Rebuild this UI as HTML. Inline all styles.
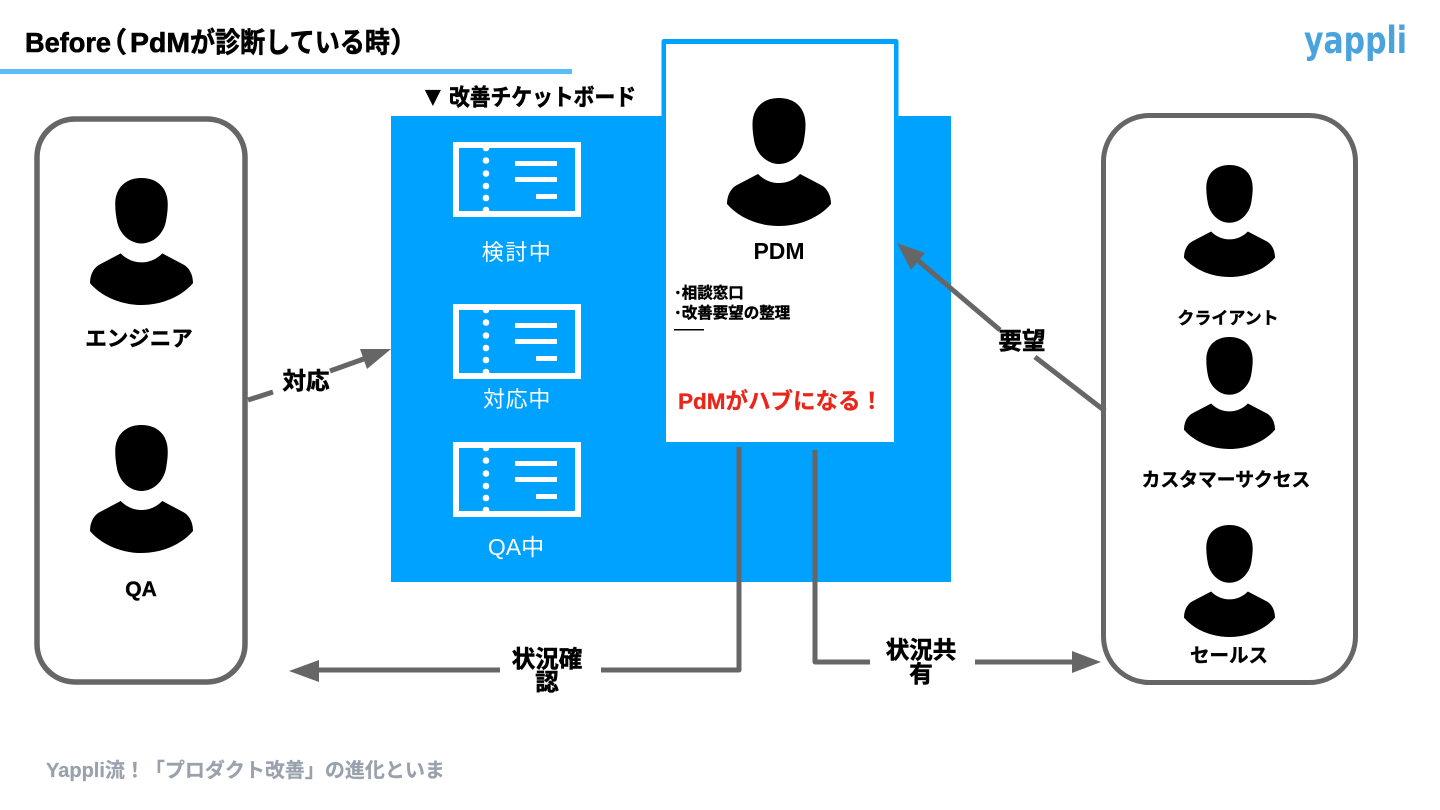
<!DOCTYPE html>
<html lang="ja">
<head>
<meta charset="utf-8">
<title>Before</title>
<style>
html,body{margin:0;padding:0;background:#fff}
svg{display:block}
text{font-family:"Liberation Sans","Noto Sans CJK JP",sans-serif;font-weight:700}
.b{stroke:#000;stroke-width:.6}
</style>
</head>
<body>
<svg width="1440" height="810" viewBox="0 0 1440 810" xmlns="http://www.w3.org/2000/svg">
<defs>
<symbol id="p" viewBox="0 0 104 128" preserveAspectRatio="none">
<path d="M52 0C68 0 78.500 10 78.500 26C78.500 32 78 36 77 42C75 56 64 66 52 66C40 66 29 56 27 42C26 36 25.500 32 25.500 26C25.500 10 36 0 52 0Z"/>
<path d="M31 76C37 82 44 85 52 85C60 85 67 82 73 76L94 87C100 90 104 97 104 106C92 120 72 128 52 128C32 128 12 120 0 106C0 97 4 90 10 87Z"/>
</symbol>
<g id="t">
<rect x="456" y="145" width="122" height="69" fill="none" stroke="#fff" stroke-width="6"/>
<g fill="#fff">
<circle cx="486" cy="148" r="3.300"/><circle cx="486" cy="160.500" r="3.300"/><circle cx="486" cy="173.500" r="3.300"/><circle cx="486" cy="186" r="3.300"/><circle cx="486" cy="198" r="3.300"/><circle cx="486" cy="210" r="3.300"/>
<rect x="515" y="161" width="42" height="5"/><rect x="515" y="177" width="42" height="5"/><rect x="536" y="194" width="21" height="5"/>
</g>
</g>
</defs>

<!-- header -->
<text y="52" font-size="28" class="b" fill="#000"><tspan x="25" textLength="86" lengthAdjust="spacingAndGlyphs">Before</tspan><tspan x="99">（</tspan><tspan x="130" textLength="60" lengthAdjust="spacingAndGlyphs">PdM</tspan><tspan x="190" textLength="200" lengthAdjust="spacingAndGlyphs">が診断している時</tspan><tspan x="390">）</tspan></text>
<rect x="0" y="69" width="572" height="5" fill="#5bbcfb"/>
<text x="1304" y="53" font-size="37" fill="#4aa3dc" style="font-family:'DejaVu Sans',sans-serif" textLength="103" lengthAdjust="spacingAndGlyphs">yappli</text>

<!-- side boxes -->
<rect x="37" y="119" width="208" height="563" rx="38" fill="#fff" stroke="#666" stroke-width="5.500"/>
<rect x="1103.500" y="115.500" width="252" height="567" rx="46" fill="#fff" stroke="#666" stroke-width="5"/>

<!-- board -->
<text y="105" font-size="23" class="b" fill="#000"><tspan x="420" font-size="26">▼</tspan><tspan x="449" textLength="187" lengthAdjust="spacingAndGlyphs">改善チケットボード</tspan></text>
<rect x="391" y="116" width="560" height="466" fill="#00a2ff"/>
<use href="#t"/>
<use href="#t" y="162"/>
<use href="#t" y="300"/>
<g fill="#fff" font-size="22" text-anchor="middle" style="font-weight:400">
<text x="517" y="260" style="font-weight:400" letter-spacing="1.500">検討中</text>
<text x="517" y="407" style="font-weight:400" letter-spacing=".7">対応中</text>
<text x="516" y="555" font-size="23" style="font-weight:400">QA中</text>
</g>

<!-- PDM card -->
<path d="M664 116V41.500H896V116" fill="none" stroke="#00a2ff" stroke-width="5" stroke-linejoin="round"/>
<rect x="666" y="44" width="228" height="398" fill="#fff"/>
<use href="#p" x="727" y="98" width="104" height="128"/>
<text x="779" y="259" font-size="23" text-anchor="middle" fill="#000">PDM</text>
<text x="674" y="298" font-size="15.500" class="b" style="stroke-width:.4" fill="#000">･相談窓口</text>
<text x="674" y="318" font-size="15.500" class="b" style="stroke-width:.4" fill="#000">･改善要望の整理</text>
<rect x="674" y="329" width="30" height="1.500" fill="#000"/>
<text x="678" y="409" font-size="22.500" fill="#e8261a" stroke="#e8261a" stroke-width=".3">PdMがハブになる！</text>

<!-- people -->
<use href="#p" x="90" y="178" width="103" height="127"/>
<use href="#p" x="90" y="425" width="103" height="128"/>
<use href="#p" x="1184" y="165" width="91" height="112"/>
<use href="#p" x="1184" y="337" width="91" height="112"/>
<use href="#p" x="1184" y="525" width="91" height="112"/>
<g fill="#000" text-anchor="middle" class="b" style="stroke-width:.4">
<text x="139" y="346" font-size="21.500">エンジニア</text>
<text x="141" y="596" font-size="21">QA</text>
<text x="1228" y="324" font-size="17">クライアント</text>
<text x="1226" y="486" font-size="18.800">カスタマーサクセス</text>
<text x="1229" y="662" font-size="19.500">セールス</text>
</g>

<!-- connectors -->
<g fill="none" stroke="#666" stroke-width="5">
<path d="M248 400L273 392M330 371L372 356"/>
<path d="M1105 411L1035 357M1000 330L915 258"/>
<path d="M739 447V670H601M500 670H315" stroke-linejoin="round"/>
<path d="M815 450V662H870M975 662H1075" stroke-linejoin="round"/>
</g>
<g fill="#666">
<polygon points="391,349 360,349 367,369"/>
<polygon points="897,243 925,253 911,270"/>
<polygon points="289,671 319,660 319,682"/>
<polygon points="1101,662 1072,651 1072,673"/>
</g>

<!-- connector labels -->
<g fill="#000" font-size="23.500" text-anchor="middle" class="b">
<text x="306" y="389">対応</text>
<text x="1022" y="349">要望</text>
<text x="547" y="667">状況確</text>
<text x="547" y="690">認</text>
<text x="921" y="658">状況共</text>
<text x="921" y="682">有</text>
</g>

<!-- footer -->
<text x="46" y="777" font-size="20" fill="#99a1ac" stroke="#99a1ac" stroke-width=".2">Yappli流！「プロダクト改善」の進化といま</text>
</svg>
</body>
</html>
